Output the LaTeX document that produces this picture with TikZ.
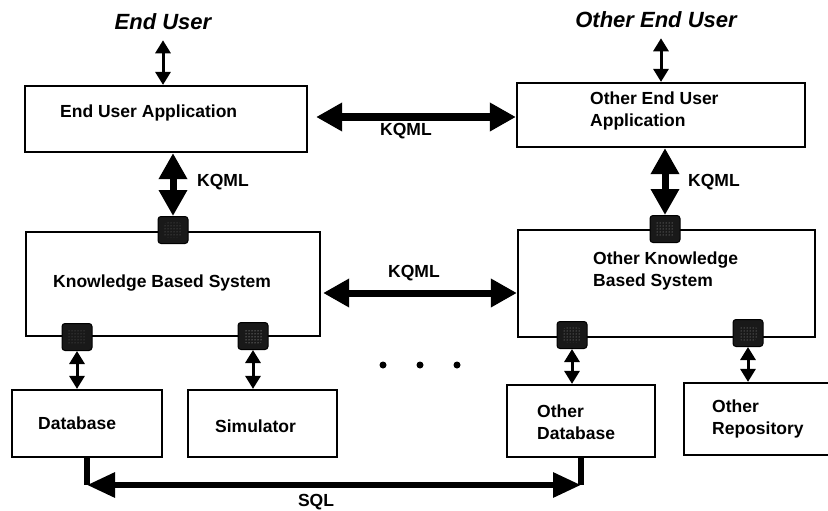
\documentclass[tikz,border=0pt]{standalone}
\usepackage{fontspec}
\setmainfont{Liberation Sans}
\usetikzlibrary{arrows.meta,positioning,patterns}

\begin{document}
\begin{tikzpicture}[x=1pt, y=-1pt,
          box/.style={draw, line width=2.2pt, inner sep=0pt},
          txt/.style={font=\fontsize{17.5}{22}\selectfont\bfseries, align=left, anchor=west, inner sep=0pt},
          lbl/.style={font=\fontsize{17.5}{22}\selectfont\bfseries, inner sep=0pt},
          user/.style={font=\fontsize{22}{26}\selectfont\bfseries\itshape, inner sep=0pt},
          port/.style={draw, line width=1pt, fill=black!90, rounded corners=3pt, minimum width=30pt, minimum height=27pt, inner sep=0pt,
            path picture={\fill[pattern=dots, pattern color=#1] ([shift={(6pt,-6pt)}]path picture bounding box.north west) rectangle ([shift={(-6pt,6pt)}]path picture bounding box.south east);}},
          port/.default=black!35,
          kqml/.style={line width=7pt, {Triangle[length=26pt,width=27pt]}-{Triangle[length=26pt,width=27pt]}},
          link/.style={line width=3pt, {Triangle[length=13pt,width=15pt]}-{Triangle[length=13pt,width=15pt]}},
          sql/.style={line width=6pt, {Triangle[length=28pt,width=24pt]}-{Triangle[length=28pt,width=24pt]}},
          dot/.style={circle, fill, inner sep=0pt, minimum size=7pt}
        ]
          \useasboundingbox (0,0) rectangle (828,511);

          % users
          \node[user] (enduser) at (163,22) {End User};
          \node[user] (oenduser) at (656,20) {Other End User};

          % boxes
          \node[box, minimum width=282pt, minimum height=66pt] (eua) at (166,119) {};
          \node[box, minimum width=288pt, minimum height=64pt] (oeua) at (661,115) {};
          \node[box, minimum width=294pt, minimum height=104pt] (kbs) at (173,284) {};
          \node[box, minimum width=297pt, minimum height=107pt] (okbs) at (666.5,283.5) {};
          \node[box, minimum width=150pt, minimum height=67pt] (db) at (87,423.5) {};
          \node[box, minimum width=149pt, minimum height=67pt] (sim) at (262.5,423.5) {};
          \node[box, minimum width=148pt, minimum height=72pt] (odb) at (581,421) {};
          \node[box, minimum width=200pt, minimum height=72pt] (orep) at (784,419) {};

          \node[txt] (euatext) at (60,113) {End User Application};
          \node[txt] (oeuatext) at (590,111) {Other End User\\Application};
          \node[txt] (kbstext) at (53,283) {Knowledge Based System};
          \node[txt] (okbstext) at (593,271) {Other Knowledge\\Based System};
          \node[txt] (dbtext) at (38,423) {Database};
          \node[txt] (simtext) at (215,426) {Simulator};
          \node[txt] (odbtext) at (537,422) {Other\\Database};
          \node[txt] (oreptext) at (712,419) {Other\\Repository};

          % ports
          \node[port=black!55] (p1) at (173,230) {};
          \node[port=black!60] (p2) at (77,337) {};
          \node[port=white!80!black] (p3) at (253,336) {};
          \node[port] (op1) at (665,229) {};
          \node[port] (op2) at (572,335) {};
          \node[port] (op3) at (748,333) {};

          % connectors
          \draw[link] ([yshift=-10pt]enduser.south) -- (enduser.south |- eua.north);
          \draw[link] ([yshift=-10pt]oenduser.south -| oeua.north) -- (oeua.north);
          \draw[kqml] (eua.south -| p1) -- (p1.north);
          \draw[kqml] (oeua.south -| op1) -- (op1.north);
          \draw[kqml] ([xshift=8pt,yshift=2pt]eua.east) coordinate (kq1) -- (kq1 -| oeua.west);
          \draw[kqml] ([xshift=2pt,yshift=-9pt]kbs.east) coordinate (kq2) -- (kq2 -| okbs.west);
          \draw[link] (p2.south) -- (p2.south |- db.north);
          \draw[link] (p3.south) -- (p3.south |- sim.north);
          \draw[link] (op2.south) -- (op2.south |- odb.north);
          \draw[link] (op3.south) -- (op3.south |- orep.north);

          \coordinate (sqlrow) at (0,485);
          \draw[line width=6pt] (db.south) -- (db.south |- sqlrow);
          \draw[line width=6pt] (odb.south) -- (odb.south |- sqlrow);
          \draw[sql] (db.south |- sqlrow) -- (odb.south |- sqlrow);

          \node[lbl] (kqtop) at (406,131) {KQML};
          \node[lbl, anchor=west] (kqleft) at (197,182) {KQML};
          \node[lbl, anchor=west] (kqright) at (688,182) {KQML};
          \node[lbl] (kqmid) at (414,273) {KQML};
          \node[lbl] (sqllbl) at (316,502) {SQL};

          \foreach \x/\n in {383/1,420/2,457/3}
            \node[dot] (dot\n) at (\x,365) {};
        \end{tikzpicture}
\end{document}
